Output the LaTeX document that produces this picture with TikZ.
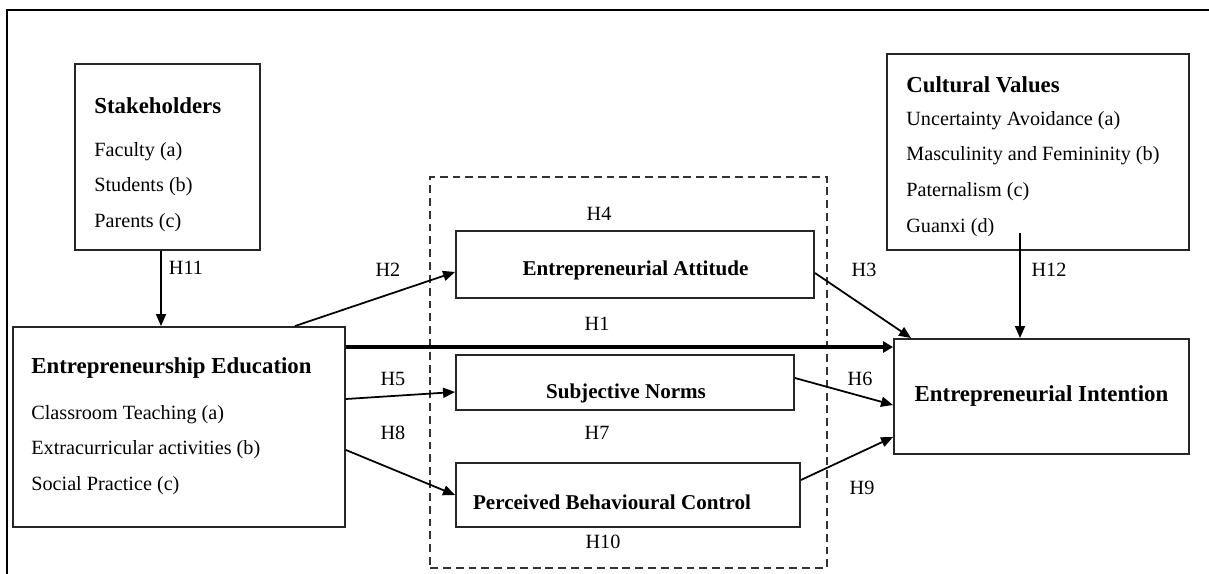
\documentclass[tikz,border=0pt]{standalone}
\usepackage{fontspec}
\setmainfont{Liberation Serif}
\usetikzlibrary{arrows.meta}
\tikzset{
  box/.style={draw=black!85, line width=1.1pt, inner sep=0pt},
  items/.style={anchor=north west, inner sep=0pt, align=left, font=\fontsize{11.5}{20.4}\selectfont},
  title/.style={font=\fontsize{12}{14}\selectfont\bfseries, inner sep=0pt},
  hyp/.style={font=\fontsize{11.5}{14}\selectfont, inner sep=0pt},
  link/.style={line width=1pt, -{Triangle[length=0.24cm,width=0.2cm]}}
}
\newcommand{\boxhead}[1]{{\fontsize{13}{15}\selectfont\bfseries #1}}

\begin{document}
\begin{tikzpicture}[x=0.02cm, y=-0.02cm]
  \useasboundingbox (0,0) rectangle (1209,574);
  \draw[line width=1.1pt] (1209,10) -- (7,10) -- (7,574);

  % outer boxes
  \node[box, minimum width=3.7cm, minimum height=3.72cm] (sk) at (167.5,157) {};
  \node[items] (skt) at (94,97) {\boxhead{Stakeholders}\\[4pt] Faculty (a)\\ Students (b)\\ Parents (c)};
  \node[box, minimum width=6.64cm, minimum height=4cm] (ee) at (179,427) {};
  \node[items] (eet) at (31,357) {\boxhead{Entrepreneurship Education}\\[5.7pt] Classroom Teaching (a)\\ Extracurricular activities (b)\\ Social Practice (c)};
  \node[box, minimum width=6.04cm, minimum height=3.92cm] (cv) at (1038,152) {};
  \node[items] (cvt) at (906,76) {\boxhead{Cultural Values}\\[-1.7pt] Uncertainty Avoidance (a)\\ Masculinity and Femininity (b)\\ Paternalism (c)\\ Guanxi (d)};
  \node[box, minimum width=5.9cm, minimum height=2.3cm, font=\fontsize{13}{15}\selectfont\bfseries] (ei) at (1041.5,396.5) {Entrepreneurial Intention};

  % mediators
  \node[draw=black!80, dashed, dash pattern=on 4.5pt off 2.8pt, line width=0.8pt, minimum width=7.94cm, minimum height=7.82cm] (med) at (628.5,372.5) {};
  \node[box, minimum width=7.16cm, minimum height=1.34cm] (ea) at (635,264.5) {};
  \node[title] (eat) at (635.5,270) {Entrepreneurial Attitude};
  \node[box, minimum width=6.76cm, minimum height=1.1cm] (sn) at (625,382.5) {};
  \node[title] (snt) at (626,393) {Subjective Norms};
  \node[box, minimum width=6.88cm, minimum height=1.28cm] (pbc) at (628,495) {};
  \node[title] (pbct) at (612,502) {Perceived Behavioural Control};

  % hypotheses
  \node[hyp] (h11) at (186,268) {H11};
  \node[hyp] (h2) at (388,270) {H2};
  \node[hyp] (h4) at (599,214) {H4};
  \node[hyp] (h3) at (864,270) {H3};
  \node[hyp] (h12) at (1049,270) {H12};
  \node[hyp] (h1) at (597,324) {H1};
  \node[hyp] (h5) at (393,379) {H5};
  \node[hyp] (h6) at (860,379) {H6};
  \node[hyp] (h8) at (393,433) {H8};
  \node[hyp] (h7) at (597,433) {H7};
  \node[hyp] (h9) at (862,488) {H9};
  \node[hyp] (h10) at (603,542) {H10};

  % paths
  \coordinate (h11s) at ([xshift=-0.13cm]sk.south);
  \draw[link] (h11s) -- (h11s |- ee.north);
  \draw[link] ([xshift=-1.02cm]ee.north east) -- ([yshift=-0.15cm]ea.west);
  \draw[link] ([yshift=-0.17cm]ea.east) -- ([xshift=0.36cm]ei.north west);
  \coordinate (h1s) at ([yshift=1.6cm]ee.east);
  \draw[line width=2.3pt, -{Triangle[length=0.2cm,width=0.22cm]}] (h1s) -- (h1s -| ei.west);
  \draw[link] ([yshift=0.56cm]ee.east) -- ([yshift=-0.19cm]sn.west);
  \draw[link] ([yshift=0.09cm]sn.east) -- ([yshift=-0.17cm]ei.west);
  \draw[link] ([yshift=-0.46cm]ee.east) -- (pbc.west);
  \draw[link] ([yshift=0.3cm]pbc.east) -- ([yshift=-0.81cm]ei.west);
  \coordinate (h12s) at ([xshift=-0.36cm,yshift=0.36cm]cv.south);
  \draw[link] (h12s) -- (h12s |- ei.north);
\end{tikzpicture}
\end{document}
